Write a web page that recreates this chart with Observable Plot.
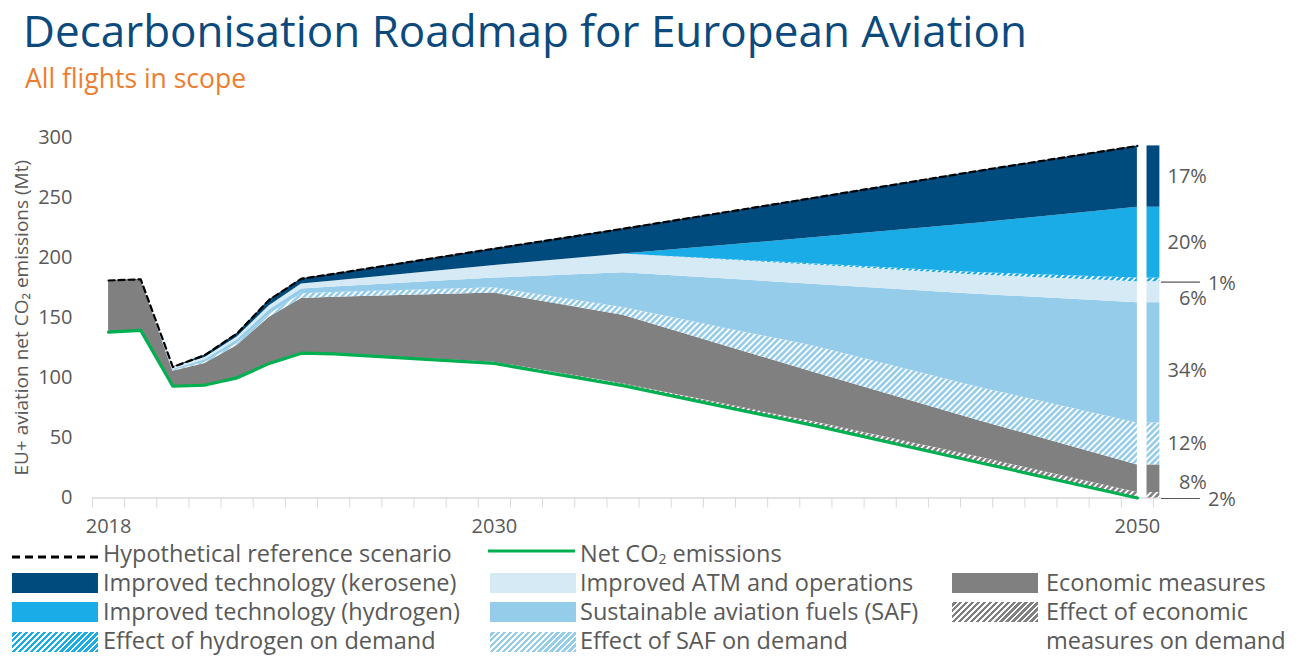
<!DOCTYPE html>
<html>
<head>
<meta charset="utf-8">
<script src="https://cdn.jsdelivr.net/npm/d3@7"></script>
<script src="https://cdn.jsdelivr.net/npm/@observablehq/plot@0.6"></script>
<style>
  html, body { margin: 0; padding: 0; background: #fff; }
  #root { position: relative; width: 1302px; height: 664px; font-family: "Open Sans", sans-serif; }
  .abs { position: absolute; white-space: nowrap; }
  #title { left: 23px; top: 0px; font-size: 44px; line-height: normal; color: #0C4A7D; }
  #subtitle { left: 25px; top: 60px; font-size: 26.5px; line-height: normal; color: #ED7D31; }
  #chart { position: absolute; left: 0; top: 120px; }
  .lg { position: absolute; font-size: 23.5px; line-height: 1; color: #595959; white-space: nowrap; }
  .sw { position: absolute; height: 20px; }
  sub { font-size: 0.6em; vertical-align: -0.14em; line-height: 0; }
</style>
</head>
<body>
<div id="root">
  <div id="title" class="abs">Decarbonisation Roadmap for European Aviation</div>
  <div id="subtitle" class="abs">All flights in scope</div>
  <div id="chart"></div>
  <div id="legend"></div>
</div>
<script>
// ---------- data (Mt CO2) ----------
const years = [2018, 2019, 2020, 2021, 2022, 2023, 2024, 2025, 2030, 2034, 2040, 2045, 2050];
const referenceScenario = [181, 182, 109, 119, 137, 165, 182.5, 186.5, 207.5, 224, 250, 272, 293];
const netEmissions      = [138, 139.5, 93, 94, 100, 112, 120.5, 120, 112, 93.5, 60, 30, 0];
const econDemand        = [0, 0, 0, 0, 0, 0, 0, 0, 1, 1.5, 3, 4.5, 4.5];
const econMeasures      = [43, 42.5, 12.5, 18, 27, 38.5, 45.5, 47, 57.5, 57, 41, 30.5, 23];
const safDemand         = [0, 0, 0.5, 1, 1.5, 2.5, 4, 4, 4.5, 6.5, 22, 27.6, 35];
const safFuels          = [0, 0, 1, 2, 3, 3.5, 4, 4.5, 8, 29, 51.7, 77, 100];
const atmOps            = [0, 0, 1.5, 2, 2.5, 3.5, 4, 5, 10.5, 15.5, 16, 16, 17.5];
const h2Demand          = [0, 0, 0, 0, 0, 0, 0, 0, 0, 0, 1, 2, 3];
const h2Tech            = [0, 0, 0, 0, 0, 0, 0, 0, 0, 0, 22, 41, 59];
const keroTech          = [0, 0, 0.5, 2, 3, 5, 4.5, 6, 14, 21, 33.3, 43.4, 51];

const layerNames = [
  "Net CO2 emissions",
  "Effect of economic measures on demand",
  "Economic measures",
  "Effect of SAF on demand",
  "Sustainable aviation fuels (SAF)",
  "Improved ATM and operations",
  "Effect of hydrogen on demand",
  "Improved technology (hydrogen)",
  "Improved technology (kerosene)"
];
const layerSeries = [netEmissions, econDemand, econMeasures, safDemand, safFuels, atmOps, h2Demand, h2Tech, keroTech];
// 2050 shares shown beside the bar (bottom to top, excluding net)
const shareLabels = ["2%", "8%", "12%", "34%", "6%", "1%", "20%", "17%"];

const yTicks = [0, 50, 100, 150, 200, 250, 300];
const xLabelTicks = [2018, 2030, 2050];
const yLabel = "EU+ aviation net CO\u2082 emissions (Mt)";

// ---------- styles ----------
const NAVY = "#004B7E", H2 = "#1AACE6", ATM = "#D6EAF6", SAF = "#95CCEA", GRAY = "#808080", GREEN = "#00B050", TXT = "#595959";
const layerFills = ["none", "url(#hEcon)", GRAY, "url(#hSaf)", SAF, ATM, "url(#hH2)", H2, NAVY];

// ---------- tables ----------
const lineRows = years.map((year, i) => ({year, net: netEmissions[i], reference: referenceScenario[i]}));
const stackRows = layerNames.flatMap((layer, k) => years.map((year, i) => ({year, layer, value: layerSeries[k][i]})));
const barRows = layerNames.slice(1).map((layer, k) => ({layer, value: layerSeries[k + 1][years.length - 1], label: shareLabels[k]}));
const barTops = d3.cumsum(barRows, d => d.value);
barRows.forEach((d, k) => { d.mid = barTops[k] - d.value / 2; });

const halfYearTicks = d3.range(years[0] - 0.5, years[years.length - 1] + 1, 1);

const labelLayout = {
  "1%": {anchor: "start", dx: 48, dy: 3.5, leaderDy: 2.3},
  "2%": {anchor: "start", dx: 48, dy: 4.5, leaderDy: 3.2},
  "6%": {dy: 6},
  "8%": {dy: 4},
  "34%": {dy: 8}
};

const labelMarks = barRows.flatMap(d => {
  const L = labelLayout[d.label] || {};
  const marks = [Plot.text([d], {
    x: 2050.7, y: "mid", text: "label",
    dx: L.dx ?? 47, dy: L.dy ?? 0,
    textAnchor: L.anchor ?? "end",
    fontSize: 20, fill: TXT
  })];
  if (L.leaderDy !== undefined) {
    marks.push(Plot.ruleY([d], {y: "mid", x1: 2050.75, x2: 2051.96, dy: L.leaderDy, stroke: TXT, strokeWidth: 1.2}));
  }
  return marks;
});

const chart = Plot.plot({
  width: 1302,
  height: 430,
  marginLeft: 92,
  marginRight: 141,
  marginTop: 17,
  marginBottom: 52.5,
  style: {fontFamily: "'Open Sans', sans-serif", fontSize: "20px", color: TXT, background: "transparent"},
  x: {domain: [2017.5, 2050.75]},
  y: {domain: [0, 300]},
  color: {domain: layerNames, range: layerFills},
  marks: [
    Plot.ruleY([0], {x1: 2017.5, x2: 2050.75, stroke: "#D9D9D9", strokeWidth: 1.3}),
    Plot.axisX(halfYearTicks, {tickSize: 10, tickFormat: () => "", stroke: "#D9D9D9", strokeOpacity: 1, label: null}),
    Plot.axisX(xLabelTicks, {tickSize: 0, tickPadding: 21, tickFormat: d => String(d), fontSize: 20, label: null}),
    Plot.axisY(yTicks, {tickSize: 0, tickPadding: 20, fontSize: 20, label: null}),
    Plot.text([yLabel], {frameAnchor: "left", textAnchor: "middle", lineAnchor: "middle", dx: -71, rotate: -90, fontSize: 19, fill: TXT}),
    Plot.areaY(stackRows, {x: "year", y: "value", z: "layer", fill: "layer", order: layerNames}),
    Plot.rectY(barRows, Plot.stackY({x1: 2050.3, x2: 2050.7, y: "value", fill: "layer", order: layerNames.slice(1)})),
    Plot.lineY(lineRows, {x: "year", y: "net", stroke: GREEN, strokeWidth: 3.2}),
    Plot.lineY(lineRows, {x: "year", y: "reference", stroke: "#000", strokeWidth: 2.2, strokeDasharray: "6,4"}),
    ...labelMarks
  ]
});

d3.select(chart).insert("defs", ":first-child").html(`
  <pattern id="hSaf" patternUnits="userSpaceOnUse" width="4.4" height="4.4" patternTransform="rotate(45)">
    <rect width="4.4" height="4.4" fill="#fff"/><rect width="2.6" height="4.4" fill="${SAF}"/>
  </pattern>
  <pattern id="hH2" patternUnits="userSpaceOnUse" width="4.4" height="4.4" patternTransform="rotate(45)">
    <rect width="4.4" height="4.4" fill="#fff"/><rect width="2.6" height="4.4" fill="${H2}"/>
  </pattern>
  <pattern id="hEcon" patternUnits="userSpaceOnUse" width="4.4" height="4.4" patternTransform="rotate(45)">
    <rect width="4.4" height="4.4" fill="#fff"/><rect width="2.6" height="4.4" fill="${GRAY}"/>
  </pattern>`);

document.getElementById("chart").appendChild(chart);

// ---------- legend ----------
const LG = 23.5;
const hatchCss = c => `repeating-linear-gradient(-45deg, ${c} 0 2.4px, #fff 2.4px 4.2px)`;
const legendItems = [
  {col: 0, row: 0, kind: "dash", text: "Hypothetical reference scenario"},
  {col: 1, row: 0, kind: "green", text: "Net CO<sub>2</sub> emissions"},
  {col: 0, row: 1, bg: NAVY, text: "Improved technology (kerosene)"},
  {col: 0, row: 2, bg: H2, text: "Improved technology (hydrogen)"},
  {col: 0, row: 3, bg: hatchCss(H2), text: "Effect of hydrogen on demand"},
  {col: 1, row: 1, bg: ATM, text: "Improved ATM and operations"},
  {col: 1, row: 2, bg: SAF, text: "Sustainable aviation fuels (SAF)"},
  {col: 1, row: 3, bg: hatchCss(SAF), text: "Effect of SAF on demand"},
  {col: 2, row: 1, bg: GRAY, text: "Economic measures"},
  {col: 2, row: 2, bg: hatchCss(GRAY), text: "Effect of economic"},
  {col: 2, row: 3, bg: null, text: "measures on demand"}
];
const colSwatchX = [12, 490, 952];
const colTextX = [103, 580, 1046];
const rowBaseline = [563, 592, 621, 650];
const rowSwatchTop = [0, 573, 602, 632];
const legend = document.getElementById("legend");
for (const it of legendItems) {
  const t = document.createElement("div");
  t.className = "lg";
  t.style.left = colTextX[it.col] + "px";
  t.style.top = (rowBaseline[it.row] - 0.888 * LG) + "px";
  t.innerHTML = it.text;
  legend.appendChild(t);
  if (it.kind === "dash" || it.kind === "green") {
    const s = document.createElementNS("http://www.w3.org/2000/svg", "svg");
    s.setAttribute("width", 90); s.setAttribute("height", 10);
    s.style.position = "absolute";
    s.style.left = (it.kind === "dash" ? 12 : 488) + "px";
    s.style.top = (it.kind === "dash" ? 552 : 546) + "px";
    const l = document.createElementNS("http://www.w3.org/2000/svg", "line");
    l.setAttribute("x1", 0); l.setAttribute("x2", 87); l.setAttribute("y1", 5); l.setAttribute("y2", 5);
    l.setAttribute("stroke", it.kind === "dash" ? "#000" : GREEN);
    l.setAttribute("stroke-width", 3);
    if (it.kind === "dash") l.setAttribute("stroke-dasharray", "8,5");
    s.appendChild(l);
    legend.appendChild(s);
  } else if (it.bg) {
    const s = document.createElement("div");
    s.className = "sw";
    s.style.left = colSwatchX[it.col] + "px";
    s.style.width = "86px";
    s.style.top = rowSwatchTop[it.row] + "px";
    s.style.background = it.bg;
    legend.appendChild(s);
  }
}
</script>
</body>
</html>
